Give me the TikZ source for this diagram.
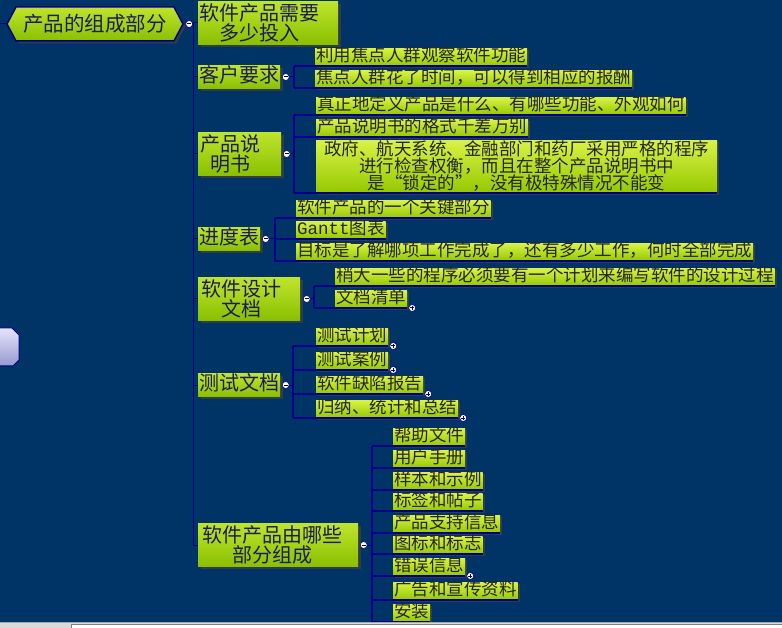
\documentclass[tikz,border=0pt]{standalone}
\usepackage{fontspec}
\setmainfont{Noto Sans CJK SC}
\newfontfamily\gmono{Liberation Mono}
\usetikzlibrary{positioning, shapes.symbols, shadows}
\definecolor{bgblue}{RGB}{0,51,102}
\definecolor{linkblue}{RGB}{0,0,140}
\definecolor{maintop}{RGB}{190,228,45}
\definecolor{mainbot}{RGB}{138,192,0}
\definecolor{leaftop}{RGB}{218,242,70}
\definecolor{leafbot}{RGB}{148,200,0}
\definecolor{txtblue}{RGB}{28,28,88}
\definecolor{shadowgray}{RGB}{48,62,68}
\tikzset{
	topnode/.style={signal, signal to=east and west, signal pointer angle=124, draw=linkblue, line width=1.5pt, top color=maintop, bottom color=mainbot, minimum width=176pt, minimum height=34pt, inner sep=0pt, font=\fontsize{20.5}{21}\selectfont, text=txtblue, drop shadow={shadow xshift=2.5pt, shadow yshift=-2.5pt, fill=shadowgray, opacity=1}},
	mainnode/.style={rectangle, anchor=west, top color=maintop, bottom color=mainbot, inner xsep=1pt, inner ysep=2pt, text height=15pt, text depth=4pt, align=center, font=\fontsize{20}{20}\selectfont, text=txtblue, drop shadow={shadow xshift=2.5pt, shadow yshift=-2.5pt, fill=shadowgray, opacity=1}},
	leaf/.style={rectangle, anchor=south west, top color=leaftop, bottom color=leafbot, inner xsep=1pt, inner ysep=0.5pt, text height=13pt, text depth=3.5pt, font=\fontsize{17.5}{17}\selectfont, text=black!85, drop shadow={shadow xshift=2pt, shadow yshift=-2pt, fill=shadowgray, opacity=1}},
	multiline/.style={text height=, text depth=},
	toggle/.style={circle, draw=linkblue, fill=white, minimum size=7pt, inner sep=0pt, line width=0.6pt},
	minus/.style={toggle, path picture={\draw[black, line width=1pt] ([xshift=-2pt]path picture bounding box.center) -- ([xshift=2pt]path picture bounding box.center);}},
	plus/.style={toggle, path picture={\draw[linkblue, line width=1pt] ([xshift=-2pt]path picture bounding box.center) -- ([xshift=2pt]path picture bounding box.center) ([yshift=-2pt]path picture bounding box.center) -- ([yshift=2pt]path picture bounding box.center);}},
	branch/.style={draw=linkblue, line width=1pt},
	underline/.style={draw=linkblue, line width=1.6pt},
}
% right padding so that wrapped titles sit left of centre
\newcommand{\rpad}[1]{\hspace*{#1}}

\begin{document}
\begin{tikzpicture}[x=1pt, y=-1pt]
	\useasboundingbox (0,0) rectangle (782,628);
	\fill[bgblue] (0,0) rectangle (782,628);

	% central topic, cut off at the left edge
	\draw[linkblue, line width=1pt, top color=blue!10!white, bottom color=blue!35!gray!60!white] (0,328) -- (12,328) -- (19,335) -- (19,360) -- (13,366) -- (0,366);

	% root and main branches
	\node (root) [topnode] at (95,24) {产品的组成部分};
	\node (t0) [minus, right=1.5pt of root] {};
	\coordinate (rin) at (0,24);
	\coordinate (tk) at (193,24);

	\node (m1) [mainnode, multiline, minimum width=140pt, minimum height=42pt] at (198,23) {软件产品需要\rpad{18pt}\\多少投入\rpad{18pt}};
	\node (m2) [mainnode] at (198,77) {客户要求};
	\node (m3) [mainnode, multiline, minimum width=83pt, minimum height=43pt] at (198,154) {产品说\rpad{18pt}\\明书\rpad{18pt}};
	\node (m4) [mainnode] at (198,239) {进度表};
	\node (m5) [mainnode, multiline, minimum width=102pt, minimum height=42pt] at (198,299) {软件设计\rpad{16pt}\\文档\rpad{16pt}};
	\node (m6) [mainnode] at (198,385) {测试文档};
	\node (m7) [mainnode, multiline, minimum width=160pt, minimum height=43pt] at (198,545) {软件产品由哪些\rpad{12pt}\\部分组成\rpad{12pt}};

	\node (t2) [minus, right=1.5pt of m2] {};
	\node (t3) [minus, right=1.5pt of m3] {};
	\node (t4) [minus, right=1.5pt of m4] {};
	\node (t5) [minus, right=2.5pt of m5] {};
	\node (t6) [minus, right=1.5pt of m6] {};
	\node (t7) [minus, right=1.5pt of m7] {};

	% leaves
	\coordinate (s2) at (294,0);
	\node (l21) [leaf] at (315,66) {利用焦点人群观察软件功能};
	\node (l22) [leaf] at (315,88) {焦点人群花了时间，可以得到相应的报酬};

	\coordinate (s3) at (294,0);
	\node (l31) [leaf] at (316,115) {真正地定义产品是什么、有哪些功能、外观如何};
	\node (l32) [leaf] at (316,137) {产品说明书的格式千差万别};
	\node (l33) [leaf, multiline, inner xsep=8pt, inner ysep=1pt, align=center] at (316,193) {政府、航天系统、金融部门和药厂采用严格的程序\\进行检查权衡，而且在整个产品说明书中\\是“锁定的”，没有极特殊情况不能变};

	\coordinate (s4) at (275,0);
	\node (l41) [leaf] at (296,218) {软件产品的一个关键部分};
	\node (l42) [leaf] at (296,239) {{\gmono Gantt}图表};
	\node (l43) [leaf] at (296,261) {目标是了解哪项工作完成了，还有多少工作，何时全部完成};

	\coordinate (s5) at (314,0);
	\node (l51) [leaf] at (335,286) {稍大一些的程序必须要有一个计划来编写软件的设计过程};
	\node (l52) [leaf] at (335,308) {文档清单};
	\node (p52) [plus, right=1pt of l52.south east] {};

	\coordinate (s6) at (293,0);
	\node (l61) [leaf] at (316,346) {测试计划};
	\node (l62) [leaf] at (316,370) {测试案例};
	\node (l63) [leaf] at (316,394) {软件缺陷报告};
	\node (l64) [leaf] at (316,418) {归纳、统计和总结};
	\node (p61) [plus, right=1pt of l61.south east] {};
	\node (p62) [plus, right=1pt of l62.south east] {};
	\node (p63) [plus, right=1pt of l63.south east] {};
	\node (p64) [plus, right=1pt of l64.south east] {};

	\coordinate (s7) at (372,0);
	\node (l71) [leaf] at (393,446) {帮助文件};
	\node (l72) [leaf] at (393,468) {用户手册};
	\node (l73) [leaf] at (393,490) {样本和示例};
	\node (l74) [leaf] at (393,511) {标签和帖子};
	\node (l75) [leaf] at (393,533) {产品支持信息};
	\node (l76) [leaf] at (393,554) {图标和标志};
	\node (l77) [leaf] at (393,576) {错误信息};
	\node (l78) [leaf] at (393,600) {广告和宣传资料};
	\node (l79) [leaf] at (393,622) {安装};
	\node (p77) [plus, right=1pt of l77.south east] {};

	\begin{scope}[branch]
		\draw (rin) -- (root.west);
		\draw (t0) -- (tk) -- (tk |- m7.west);
		\foreach \m in {m1,m2,m3,m4,m5,m6,m7}
			\draw (tk |- \m.west) -- (\m.west);
		\draw (t2) -- (t2 -| s2);
		\draw (t3) -- (t3 -| s3);
		\draw (t4) -- (t4 -| s4);
		\draw (t5) -- (t5 -| s5);
		\draw (t6) -- (t6 -| s6);
		\draw (t7) -- (t7 -| s7);
	\end{scope}

	\begin{scope}[underline]
		\draw (s2 |- l21.south) -- (s2 |- l22.south);
		\foreach \l in {l21,l22}
			\draw (s2 |- \l.south) -- (\l.south east);
		\draw (s3 |- l31.south) -- (s3 |- l33.south);
		\foreach \l in {l31,l32,l33}
			\draw (s3 |- \l.south) -- (\l.south east);
		\draw (s4 |- l41.south) -- (s4 |- l43.south);
		\foreach \l in {l41,l42,l43}
			\draw (s4 |- \l.south) -- (\l.south east);
		\draw (s5 |- l51.south) -- (s5 |- l52.south);
		\foreach \l in {l51,l52}
			\draw (s5 |- \l.south) -- (\l.south east);
		\draw (s6 |- l61.south) -- (s6 |- l64.south);
		\foreach \l in {l61,l62,l63,l64}
			\draw (s6 |- \l.south) -- (\l.south east);
		\draw (s7 |- l71.south) -- (s7 |- l79.south);
		\foreach \l in {l71,l72,l73,l74,l75,l76,l77,l78,l79}
			\draw (s7 |- \l.south) -- (\l.south east);
	\end{scope}

	% window frame at the bottom
	\fill[gray!30] (0,622) rectangle (782,628);
	\draw[gray!70] (0,622.5) -- (782,622.5);
	\fill[white] (71,624) rectangle (782,628);
	\draw[gray] (71,628) -- (71,624) -- (782,624);
\end{tikzpicture}
\end{document}
